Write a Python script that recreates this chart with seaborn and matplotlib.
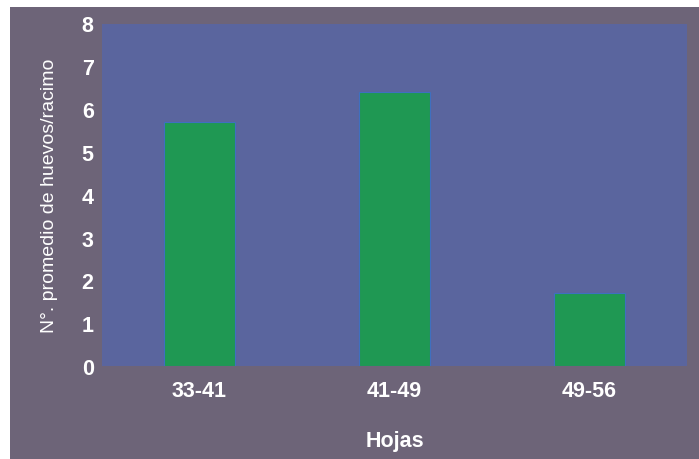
import matplotlib
matplotlib.use("Agg")
import matplotlib.pyplot as plt
from matplotlib.patches import Rectangle
import seaborn as sns
import pandas as pd

# Average eggs per cluster by leaf range
hojas = ["33-41", "41-49", "49-56"]
huevos = [5.7, 6.4, 1.7]
yticks = [0, 1, 2, 3, 4, 5, 6, 7, 8]

panel_color = "#6d6478"
plot_color = "#5a659e"
bar_color = "#1f9853"
edge_color = "#3f6fc0"
text_color = "#ffffff"

sns.set_theme(style="white")
plt.rcParams["font.family"] = ["Liberation Sans Narrow", "Liberation Sans", "DejaVu Sans"]

df = pd.DataFrame({"Hojas": hojas, "Huevos": huevos})

fig = plt.figure(figsize=(6.99, 4.60), dpi=100, facecolor="white")
# dark backing panel behind the whole chart
fig.patches.append(Rectangle((10 / 699, 0), 1 - 10 / 699, 1 - 8 / 460,
                             transform=fig.transFigure, facecolor=panel_color,
                             edgecolor="none", zorder=-10))

ax = fig.add_axes([102 / 699, 1 - 367 / 460, 585 / 699, (367 - 24.5) / 460])
ax.set_zorder(5)
ax.set_facecolor(plot_color)

sns.barplot(data=df, x="Hojas", y="Huevos", color=bar_color, width=0.36,
            saturation=1, edgecolor=edge_color, linewidth=0.8, ax=ax)

ax.set_ylim(0, 8)
ax.set_yticks(yticks)
ax.set_xlim(-0.5, 2.5)
for s in ax.spines.values():
    s.set_visible(False)
ax.tick_params(axis="both", length=0, colors=text_color)
ax.tick_params(axis="y", pad=6)
ax.tick_params(axis="x", pad=10)
for lab in ax.get_yticklabels() + ax.get_xticklabels():
    lab.set_fontsize(15.5)
    lab.set_fontweight("bold")
    lab.set_color(text_color)

ax.set_xlabel("Hojas", fontsize=15.5, fontweight="bold", color=text_color, labelpad=21)
ax.set_ylabel("N°. promedio de huevos/racimo", fontsize=14, color=text_color, labelpad=17)

fig.savefig("out.png", dpi=100, facecolor="white")
